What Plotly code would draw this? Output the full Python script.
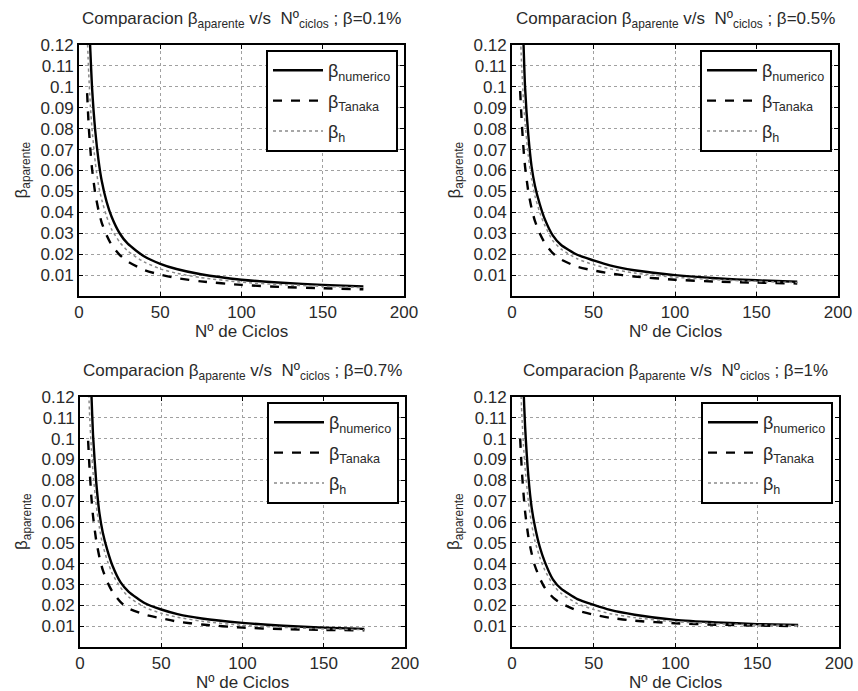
import plotly.graph_objects as go

# ---------------- data ----------------
ciclos = [5, 6, 7, 8, 10, 12, 14, 17, 20, 25, 30, 40, 50, 60, 75, 100, 125, 150, 175]

panel_titles = ["β=0.1%", "β=0.5%", "β=0.7%", "β=1%"]

num_01 = [0.160, 0.135, 0.117, 0.100, 0.079, 0.065, 0.055, 0.045, 0.038, 0.030, 0.025, 0.0190, 0.0154, 0.0129, 0.0104, 0.0078, 0.0063, 0.0053, 0.0046]
tan_01 = [0.097, 0.081, 0.070, 0.061, 0.049, 0.041, 0.035, 0.029, 0.0245, 0.0197, 0.0165, 0.0125, 0.0102, 0.0086, 0.0070, 0.0053, 0.0043, 0.0037, 0.0032]
h_01 = [0.126, 0.106, 0.091, 0.080, 0.064, 0.053, 0.046, 0.038, 0.032, 0.0258, 0.0215, 0.0163, 0.0130, 0.0109, 0.0088, 0.0066, 0.0054, 0.0046, 0.0040]

num_05 = [0.165, 0.140, 0.122, 0.100, 0.077, 0.062, 0.053, 0.044, 0.037, 0.029, 0.0245, 0.0197, 0.0170, 0.0146, 0.0123, 0.0100, 0.0085, 0.0075, 0.0068]
tan_05 = [0.098, 0.083, 0.071, 0.062, 0.050, 0.042, 0.036, 0.030, 0.0255, 0.0205, 0.0175, 0.0140, 0.0122, 0.0108, 0.0093, 0.0078, 0.0069, 0.0064, 0.0060]
h_05 = [0.128, 0.109, 0.094, 0.083, 0.067, 0.056, 0.048, 0.040, 0.034, 0.0265, 0.0225, 0.0178, 0.0150, 0.0130, 0.0110, 0.0090, 0.0078, 0.0070, 0.0064]

num_07 = [0.165, 0.140, 0.122, 0.102, 0.079, 0.064, 0.055, 0.046, 0.039, 0.031, 0.0265, 0.0210, 0.0180, 0.0158, 0.0137, 0.0116, 0.0102, 0.0093, 0.0087]
tan_07 = [0.099, 0.084, 0.072, 0.063, 0.051, 0.043, 0.037, 0.031, 0.0265, 0.0215, 0.0185, 0.0155, 0.0138, 0.0122, 0.0108, 0.0093, 0.0086, 0.0082, 0.0080]
h_07 = [0.130, 0.110, 0.095, 0.084, 0.068, 0.057, 0.049, 0.041, 0.035, 0.0285, 0.0240, 0.0190, 0.0162, 0.0143, 0.0124, 0.0104, 0.0094, 0.0087, 0.0083]

num_10 = [0.170, 0.145, 0.125, 0.106, 0.082, 0.067, 0.058, 0.048, 0.041, 0.0325, 0.0280, 0.0230, 0.0202, 0.0178, 0.0155, 0.0130, 0.0118, 0.0110, 0.0106]
tan_10 = [0.100, 0.085, 0.074, 0.065, 0.053, 0.045, 0.039, 0.033, 0.0285, 0.0238, 0.0210, 0.0175, 0.0155, 0.0140, 0.0126, 0.0114, 0.0107, 0.0103, 0.0100]
h_10 = [0.132, 0.112, 0.097, 0.086, 0.070, 0.059, 0.051, 0.043, 0.037, 0.0300, 0.0258, 0.0208, 0.0180, 0.0160, 0.0141, 0.0121, 0.0112, 0.0106, 0.0103]

x_ticks = [0, 50, 100, 150, 200]
y_ticks = [0.01, 0.02, 0.03, 0.04, 0.05, 0.06, 0.07, 0.08, 0.09, 0.1, 0.11, 0.12]
y_tick_text = ["0.01", "0.02", "0.03", "0.04", "0.05", "0.06", "0.07", "0.08", "0.09", "0.1", "0.11", "0.12"]

series_names = ["β<sub>numerico</sub>", "β<sub>Tanaka</sub>", "β<sub>h</sub>"]
panels = [(num_01, tan_01, h_01), (num_05, tan_05, h_05), (num_07, tan_07, h_07), (num_10, tan_10, h_10)]

# ---------------- layout geometry ----------------
W, H = 858, 691
boxes = [(79, 404, 45, 296), (512, 838, 45, 296), (80, 405, 397, 647), (512, 839, 397, 647)]

FONT = "Liberation Sans, Arial, sans-serif"
TXT = "#2a2a2a"

fig = go.Figure()
styles = [dict(color="black", width=2.4, dash="solid"),
          dict(color="black", width=2.4, dash="dash"),
          dict(color="#8a8a8a", width=1.5, dash="dot")]

annotations = []
for i, (vals, (l, r, t, b)) in enumerate(zip(panels, boxes)):
    k = "" if i == 0 else str(i + 1)
    leg = "legend" + k
    for j, (name, ys, st) in enumerate(zip(series_names, vals, styles)):
        fig.add_trace(go.Scatter(x=ciclos, y=ys, mode="lines", name=name,
                                 line=dict(shape="spline", smoothing=0.6, **st),
                                 xaxis="x" + k, yaxis="y" + k, legend=leg,
                                 legendgroup="g%d_%d" % (i, j)))
    xd = [l / W, r / W]
    yd = [1 - b / H, 1 - t / H]
    common = dict(showline=True, linecolor="black", linewidth=2, mirror="ticks",
                  ticks="inside", ticklen=4, tickcolor="black", tickwidth=1,
                  showgrid=True, gridcolor="#a0a0a0", griddash="dot", gridwidth=1,
                  zeroline=False, automargin=False,
                  tickfont=dict(family=FONT, size=17, color=TXT))
    fig.update_layout(**{
        "xaxis" + k: dict(domain=xd, range=[0, 200], tickvals=x_ticks, anchor="y" + k, **common),
        "yaxis" + k: dict(domain=yd, range=[0, 0.12], tickvals=y_ticks, ticktext=y_tick_text,
                          anchor="x" + k, **common),
        leg: dict(x=(r - 6) / W, xanchor="right", y=1 - (t + 5) / H, yanchor="top",
                  bgcolor="white", bordercolor="black", borderwidth=2,
                  font=dict(family=FONT, size=18, color=TXT), itemwidth=50,
                  tracegroupgap=4),
    })
    cx = (l + r) / 2
    annotations.append(dict(x=cx / W, y=1 - (t - 25) / H, xref="paper", yref="paper",
                            text="Comparacion β<sub>aparente</sub> v/s  Nº<sub>ciclos</sub> ; " + panel_titles[i],
                            showarrow=False, font=dict(family=FONT, size=17, color=TXT),
                            xanchor="center", yanchor="middle"))
    annotations.append(dict(x=cx / W, y=1 - (b + 35) / H, xref="paper", yref="paper",
                            text="Nº de Ciclos", showarrow=False,
                            font=dict(family=FONT, size=17, color=TXT),
                            xanchor="center", yanchor="middle"))
    annotations.append(dict(x=(l - 57) / W, y=1 - ((t + b) / 2) / H, xref="paper", yref="paper",
                            text="β<sub>aparente</sub>", showarrow=False, textangle=-90,
                            font=dict(family=FONT, size=17, color=TXT),
                            xanchor="center", yanchor="middle"))

fig.update_layout(width=W, height=H, margin=dict(l=0, r=0, t=0, b=0, autoexpand=False),
                  paper_bgcolor="white", plot_bgcolor="white",
                  annotations=annotations, showlegend=True)

fig.write_html("out.html", config={"displayModeBar": False},
               post_script="document.body.style.margin='0';document.body.style.padding='0';")
